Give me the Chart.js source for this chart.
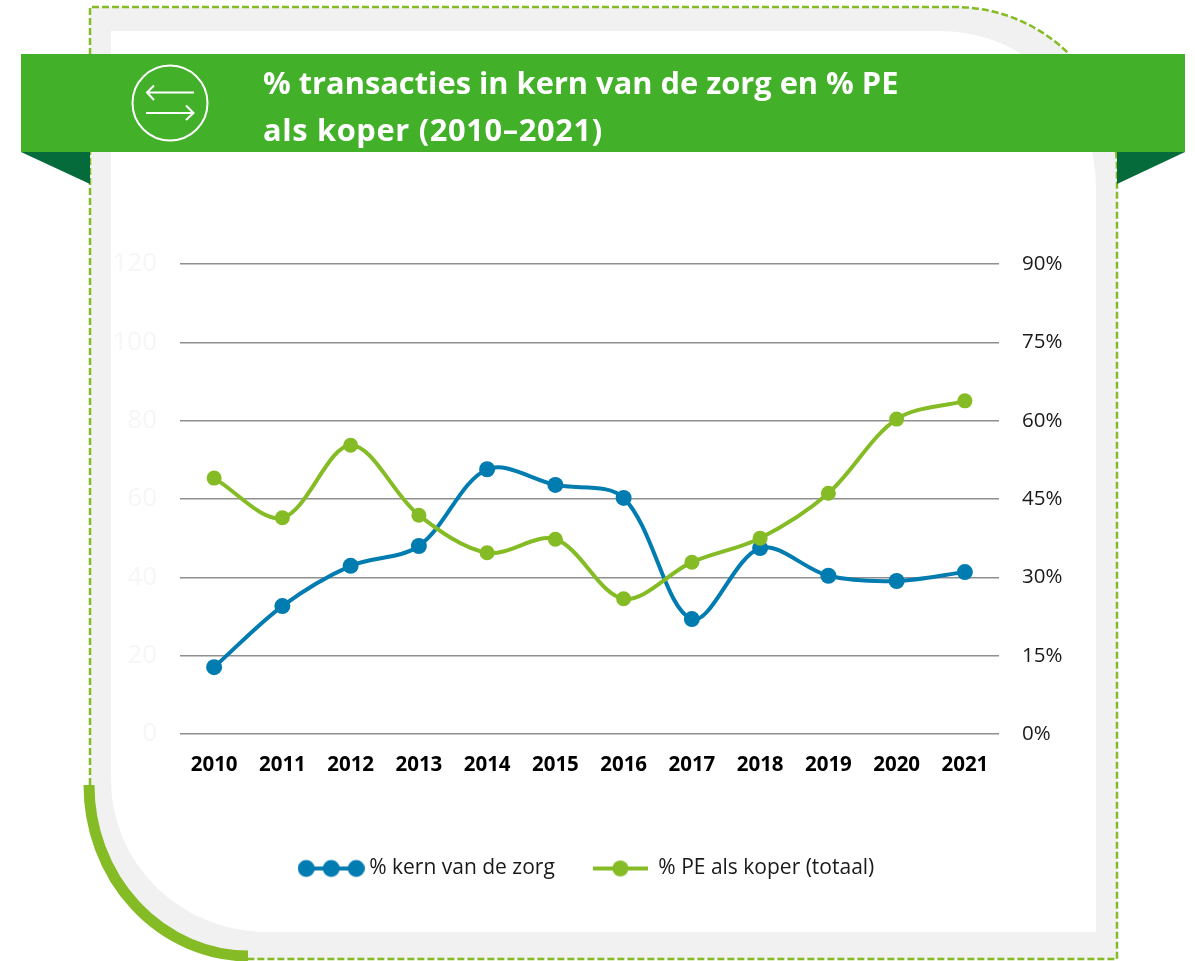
<!DOCTYPE html>
<html><head><meta charset="utf-8">
<script src="https://cdn.jsdelivr.net/npm/chart.js@4/dist/chart.umd.min.js"></script>
<style>
html,body{margin:0;padding:0;background:#fff;width:1195px;height:961px;overflow:hidden}
#deco,#c{position:absolute;left:0;top:0}
#title{position:absolute;left:263px;top:59px;margin:0;color:#fff;font:700 30.8px/47px "Open Sans",sans-serif;white-space:nowrap}
#title span{letter-spacing:.65px}
</style></head><body>
<svg id="deco" width="1195" height="961" viewBox="0 0 1195 961">
<path d="M90 7H955A162 162 0 0 1 1117 169V959H248A160 172 0 0 1 90 787Z" fill="#f1f1f1"/>
<path d="M111 31H940A156 156 0 0 1 1096 187V932H267A156 152 0 0 1 111 780Z" fill="#fff"/>
<path d="M90 785V7H955A162 162 0 0 1 1117 169V959H248" fill="none" stroke="#85bc25" stroke-width="2.500" stroke-dasharray="7 3"/>
<path d="M89 785A160 171 0 0 0 248 956" fill="none" stroke="#85bc25" stroke-width="11"/>
<polygon points="21,152 90,152 90,184" fill="#066b3a"/>
<polygon points="1117,152 1185,152 1117,184" fill="#066b3a"/>
<rect x="21" y="54" width="1164" height="98" fill="#43b02a"/>
<circle cx="170" cy="103" r="37.5" fill="none" stroke="#fff" stroke-width="2"/>
<path d="M194 92.5H147M154 85.5L147 92.5L154 100M146 113H193.500M186 105.500L193.500 113L186 120" fill="none" stroke="#fff" stroke-width="2"/>
</svg>
<canvas id="c" width="1195" height="961"></canvas>
<h1 id="title">% transacties in kern van de zorg en % PE<br><span>als koper (2010–2021)</span></h1>
<script>
const categories = ["2010","2011","2012","2013","2014","2015","2016","2017","2018","2019","2020","2021"];
const kernVanDeZorg = [12.8,24.5,32.2,36.0,50.7,47.7,45.2,22.0,35.6,30.3,29.3,31.0];
const peAlsKoper = [49.0,41.4,55.3,41.9,34.7,37.3,25.9,32.9,37.5,46.1,60.3,63.8];
const seriesNames = ["% kern van de zorg","% PE als koper (totaal)"];
const blue = "#007cb0", green = "#85bc25";
const FONT = '"Open Sans", sans-serif';

function legendIcon(w, color, r, xs){
  const cv = document.createElement('canvas'); cv.width = w; cv.height = 20;
  const g = cv.getContext('2d');
  g.strokeStyle = color; g.lineWidth = 4; g.fillStyle = color;
  g.beginPath(); g.moveTo(xs.length>1 ? r : 0,10); g.lineTo(xs.length>1 ? w-r : w,10); g.stroke();
  xs.forEach(x=>{g.beginPath(); g.arc(x,10,r,0,Math.PI*2); g.fill();});
  return cv;
}
const icons = [legendIcon(67,blue,8.5,[8.5,33.5,58.5]), legendIcon(55,green,8,[27.5])];

new Chart(document.getElementById('c'),{
  type:'line',
  data:{labels:categories,datasets:[
    {label:seriesNames[0],data:kernVanDeZorg,yAxisID:'yR',borderColor:blue,backgroundColor:blue,borderWidth:4,pointRadius:8,pointBorderWidth:0,tension:0.33,fill:false,order:2},
    {label:seriesNames[1],data:peAlsKoper,yAxisID:'yR',borderColor:green,backgroundColor:green,borderWidth:4,pointRadius:7.5,pointBorderWidth:0,tension:0.33,fill:false,order:1}
  ]},
  options:{
    responsive:false,animation:false,
    layout:{padding:{left:110,right:127,top:264,bottom:72}},
    plugins:{
      tooltip:{enabled:false},title:{display:false},
      legend:{position:'bottom',labels:{
        usePointStyle:true,pointStyleWidth:55,padding:38,color:'#1a1a1a',
        font:{family:FONT,size:21},
        generateLabels(chart){
          const items = Chart.defaults.plugins.legend.labels.generateLabels(chart);
          items.sort((a,b)=>a.datasetIndex-b.datasetIndex);
          items.forEach(it=>{it.pointStyle = icons[it.datasetIndex];});
          return items;
        }
      }}
    },
    scales:{
      x:{offset:true,grid:{display:false},border:{display:false},
        ticks:{color:'#000',padding:11,maxRotation:0,autoSkip:false,font:{family:FONT,size:20.5,weight:'700'}},
        afterFit(s){s.height=86;}},
      yL:{position:'left',min:0,max:120,grid:{display:false,drawTicks:false},border:{display:false},
        ticks:{stepSize:20,color:'#f6f6f6',padding:23,font:{family:FONT,size:26}},
        afterFit(s){s.width=70;}},
      yR:{position:'right',min:0,max:90,grid:{color:'#8f8f8f',lineWidth:1.5,drawTicks:false},border:{display:false},
        ticks:{stepSize:15,color:'#1a1a1a',padding:23,font:{family:FONT,size:20.5},callback:v=>v+'%'},
        afterFit(s){s.width=69;}}
    }
  }
});
</script>
</body></html>
